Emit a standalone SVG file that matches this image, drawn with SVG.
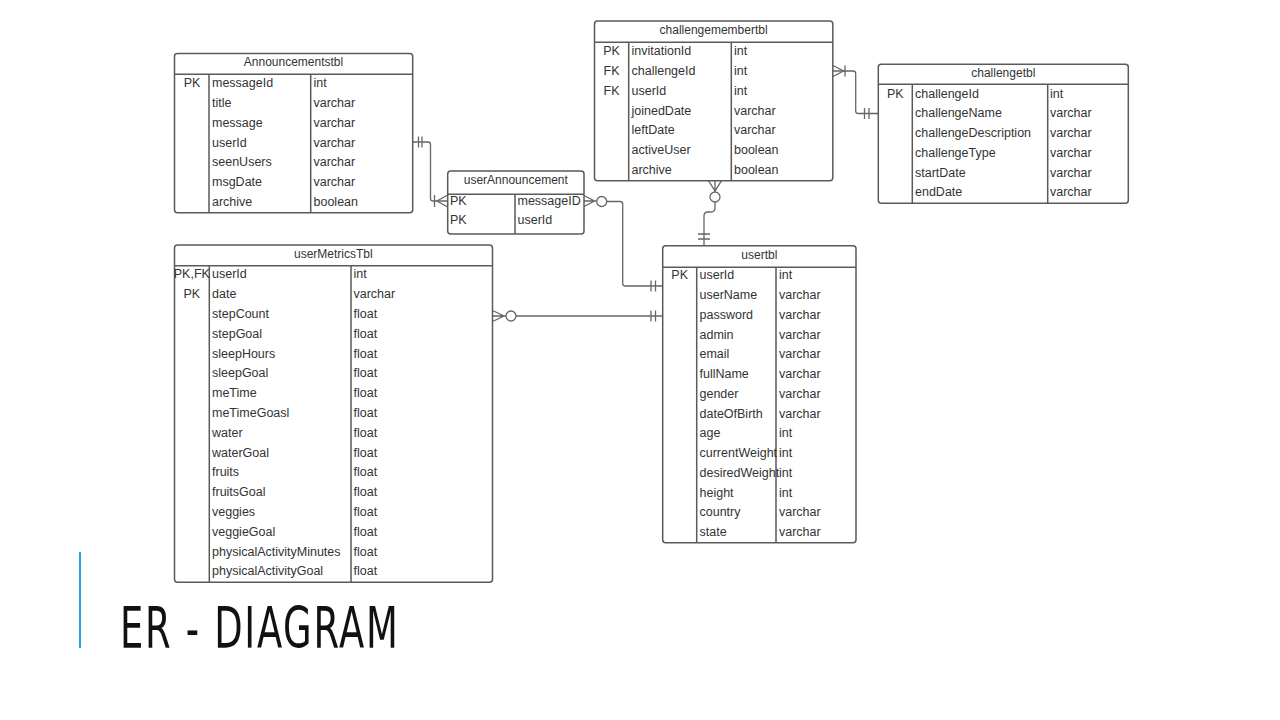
<svg xmlns="http://www.w3.org/2000/svg" width="1280" height="720" viewBox="0 0 1280 720">
<style>
.box{fill:#fff;stroke:#5a5a5a;stroke-width:1.5}
.ln{stroke:#5a5a5a;stroke-width:1.5;fill:none}
.t{font-family:"Liberation Sans",Arial,sans-serif;font-size:12.5px;fill:#333}
.h{font-size:12px;text-anchor:middle}
.m{text-anchor:middle}
.c{fill:none;stroke:#666;stroke-width:1.3}
.o{fill:#fff;stroke:#666;stroke-width:1.3}
</style>
<rect width="1280" height="720" fill="#fff"/>

<g id="connectors">
  <!-- Announcementstbl -> userAnnouncement -->
  <path class="c" d="M412.7 142 H428 Q430.5 142 430.5 144.5 V198.5 Q430.5 201 433 201 H447.7"/>
  <path class="c" d="M418.5 136.5 V147.5 M422 136.5 V147.5"/>
  <path class="c" d="M447.7 195 L437 201 L447.7 207 M434.5 195 V207"/>
  <!-- userAnnouncement -> usertbl -->
  <path class="c" d="M584 195.5 L594.5 201 L584 206.5 M584 201 H596.7"/>
  <circle class="o" cx="601.7" cy="201.5" r="5"/>
  <path class="c" d="M606.7 201.5 H620 Q622.7 201.5 622.7 204 V283.5 Q622.7 286 625.2 286 H662.7"/>
  <path class="c" d="M651 280.5 V291.5 M655.5 280.5 V291.5"/>
  <!-- userMetricsTbl -> usertbl -->
  <path class="c" d="M492.5 310.5 L504 316 L492.5 321.5 M492.5 316 H506"/>
  <circle class="o" cx="511" cy="316" r="5"/>
  <path class="c" d="M516 316 H662.7"/>
  <path class="c" d="M651 310.5 V321.5 M655.5 310.5 V321.5"/>
  <!-- challengemembertbl -> challengetbl -->
  <path class="c" d="M833 65.5 L843.5 71 L833 76.5 M845 65.5 V76.5"/>
  <path class="c" d="M833 71 H853 Q855.7 71 855.7 73.5 V111 Q855.7 113.5 858.2 113.5 H878.3"/>
  <path class="c" d="M864.5 108 V119 M869 108 V119"/>
  <!-- challengemembertbl -> usertbl -->
  <path class="c" d="M708.5 180.7 L715 191 L721.5 180.7 M715 180.7 V192"/>
  <circle class="o" cx="715" cy="197" r="5"/>
  <path class="c" d="M715 202 V208 Q715 212 711 212 H708 Q704 212 704 216 V245.7"/>
  <path class="c" d="M698 234 H710 M698 239 H710"/>
</g>

<g id="Announcementstbl">
  <rect class="box" x="174.5" y="53.5" width="238.2" height="159.2" rx="3"/>
  <path class="ln" d="M174.5 74.3 H412.7 M209 74.3 V212.7 M310.7 74.3 V212.7"/>
  <text class="t h" x="293.5" y="66">Announcementstbl</text>
  <text class="t m" x="192" y="87.4">PK</text>
  <text class="t" x="212" y="87.4">messageId</text><text class="t" x="313.5" y="87.4">int</text>
  <text class="t" x="212" y="107.1">title</text><text class="t" x="313.5" y="107.1">varchar</text>
  <text class="t" x="212" y="126.8">message</text><text class="t" x="313.5" y="126.8">varchar</text>
  <text class="t" x="212" y="146.5">userId</text><text class="t" x="313.5" y="146.5">varchar</text>
  <text class="t" x="212" y="166.2">seenUsers</text><text class="t" x="313.5" y="166.2">varchar</text>
  <text class="t" x="212" y="185.9">msgDate</text><text class="t" x="313.5" y="185.9">varchar</text>
  <text class="t" x="212" y="205.6">archive</text><text class="t" x="313.5" y="205.6">boolean</text>
</g>

<g id="userAnnouncement">
  <rect class="box" x="447.7" y="171" width="136.3" height="63" rx="3"/>
  <path class="ln" d="M447.7 194.3 H584 M515 194.3 V234"/>
  <text class="t h" x="515.8" y="184">userAnnouncement</text>
  <text class="t" x="450" y="205.4">PK</text><text class="t" x="517.5" y="205.4">messageID</text>
  <text class="t" x="450" y="224.4">PK</text><text class="t" x="517.5" y="224.4">userId</text>
</g>

<g id="challengemembertbl">
  <rect class="box" x="594.5" y="21" width="238.3" height="159.7" rx="3"/>
  <path class="ln" d="M594.5 42.3 H832.8 M628.7 42.3 V180.7 M731.3 42.3 V180.7"/>
  <text class="t h" x="713.6" y="34.3">challengemembertbl</text>
  <text class="t m" x="611.6" y="55.3">PK</text>
  <text class="t" x="631.5" y="55.3">invitationId</text><text class="t" x="734" y="55.3">int</text>
  <text class="t m" x="611.6" y="75.05">FK</text>
  <text class="t" x="631.5" y="75.05">challengeId</text><text class="t" x="734" y="75.05">int</text>
  <text class="t m" x="611.6" y="94.8">FK</text>
  <text class="t" x="631.5" y="94.8">userId</text><text class="t" x="734" y="94.8">int</text>
  <text class="t" x="631.5" y="114.55">joinedDate</text><text class="t" x="734" y="114.55">varchar</text>
  <text class="t" x="631.5" y="134.3">leftDate</text><text class="t" x="734" y="134.3">varchar</text>
  <text class="t" x="631.5" y="154.05">activeUser</text><text class="t" x="734" y="154.05">boolean</text>
  <text class="t" x="631.5" y="173.8">archive</text><text class="t" x="734" y="173.8">boolean</text>
</g>

<g id="challengetbl">
  <rect class="box" x="878.3" y="64.3" width="250" height="139" rx="3"/>
  <path class="ln" d="M878.3 84.3 H1128.3 M912.3 84.3 V203.3 M1047.7 84.3 V203.3"/>
  <text class="t h" x="1003.3" y="77.3">challengetbl</text>
  <text class="t m" x="895.3" y="97.6">PK</text>
  <text class="t" x="915" y="97.6">challengeId</text><text class="t" x="1050" y="97.6">int</text>
  <text class="t" x="915" y="117.35">challengeName</text><text class="t" x="1050" y="117.35">varchar</text>
  <text class="t" x="915" y="137.1">challengeDescription</text><text class="t" x="1050" y="137.1">varchar</text>
  <text class="t" x="915" y="156.85">challengeType</text><text class="t" x="1050" y="156.85">varchar</text>
  <text class="t" x="915" y="176.6">startDate</text><text class="t" x="1050" y="176.6">varchar</text>
  <text class="t" x="915" y="196.35">endDate</text><text class="t" x="1050" y="196.35">varchar</text>
</g>

<g id="usertbl">
  <rect class="box" x="662.7" y="245.7" width="193.3" height="297" rx="3"/>
  <path class="ln" d="M662.7 267.3 H856 M696.7 267.3 V542.7 M776 267.3 V542.7"/>
  <text class="t h" x="759.3" y="259.3">usertbl</text>
  <text class="t m" x="679.7" y="279.4">PK</text>
  <text class="t" x="699.5" y="279.4">userId</text><text class="t" x="779" y="279.4">int</text>
  <text class="t" x="699.5" y="299.15">userName</text><text class="t" x="779" y="299.15">varchar</text>
  <text class="t" x="699.5" y="318.9">password</text><text class="t" x="779" y="318.9">varchar</text>
  <text class="t" x="699.5" y="338.65">admin</text><text class="t" x="779" y="338.65">varchar</text>
  <text class="t" x="699.5" y="358.4">email</text><text class="t" x="779" y="358.4">varchar</text>
  <text class="t" x="699.5" y="378.15">fullName</text><text class="t" x="779" y="378.15">varchar</text>
  <text class="t" x="699.5" y="397.9">gender</text><text class="t" x="779" y="397.9">varchar</text>
  <text class="t" x="699.5" y="417.65">dateOfBirth</text><text class="t" x="779" y="417.65">varchar</text>
  <text class="t" x="699.5" y="437.4">age</text><text class="t" x="779" y="437.4">int</text>
  <text class="t" x="699.5" y="457.15">currentWeight</text><text class="t" x="779" y="457.15">int</text>
  <text class="t" x="699.5" y="476.9">desiredWeight</text><text class="t" x="779" y="476.9">int</text>
  <text class="t" x="699.5" y="496.65">height</text><text class="t" x="779" y="496.65">int</text>
  <text class="t" x="699.5" y="516.4">country</text><text class="t" x="779" y="516.4">varchar</text>
  <text class="t" x="699.5" y="536.15">state</text><text class="t" x="779" y="536.15">varchar</text>
</g>

<g id="userMetricsTbl">
  <rect class="box" x="174.5" y="245" width="318" height="337.3" rx="3"/>
  <path class="ln" d="M174.5 265.7 H492.5 M209.3 265.7 V582.3 M351 265.7 V582.3"/>
  <text class="t h" x="333.3" y="258">userMetricsTbl</text>
  <text class="t m" x="191.8" y="278.4">PK,FK</text>
  <text class="t" x="212" y="278.4">userId</text><text class="t" x="353.5" y="278.4">int</text>
  <text class="t m" x="191.8" y="298.2">PK</text>
  <text class="t" x="212" y="298.2">date</text><text class="t" x="353.5" y="298.2">varchar</text>
  <text class="t" x="212" y="318">stepCount</text><text class="t" x="353.5" y="318">float</text>
  <text class="t" x="212" y="337.8">stepGoal</text><text class="t" x="353.5" y="337.8">float</text>
  <text class="t" x="212" y="357.6">sleepHours</text><text class="t" x="353.5" y="357.6">float</text>
  <text class="t" x="212" y="377.4">sleepGoal</text><text class="t" x="353.5" y="377.4">float</text>
  <text class="t" x="212" y="397.2">meTime</text><text class="t" x="353.5" y="397.2">float</text>
  <text class="t" x="212" y="417">meTimeGoasl</text><text class="t" x="353.5" y="417">float</text>
  <text class="t" x="212" y="436.8">water</text><text class="t" x="353.5" y="436.8">float</text>
  <text class="t" x="212" y="456.6">waterGoal</text><text class="t" x="353.5" y="456.6">float</text>
  <text class="t" x="212" y="476.4">fruits</text><text class="t" x="353.5" y="476.4">float</text>
  <text class="t" x="212" y="496.2">fruitsGoal</text><text class="t" x="353.5" y="496.2">float</text>
  <text class="t" x="212" y="516">veggies</text><text class="t" x="353.5" y="516">float</text>
  <text class="t" x="212" y="535.8">veggieGoal</text><text class="t" x="353.5" y="535.8">float</text>
  <text class="t" x="212" y="555.6">physicalActivityMinutes</text><text class="t" x="353.5" y="555.6">float</text>
  <text class="t" x="212" y="575.4">physicalActivityGoal</text><text class="t" x="353.5" y="575.4">float</text>
</g>

<g id="title">
  <rect x="79" y="552" width="2" height="96" fill="#1ca8e0"/>
  <text transform="translate(120,648) scale(0.72,1)" x="0" y="0" font-family="'DejaVu Sans Condensed','Liberation Sans',sans-serif" font-size="57" fill="#111" textLength="386" lengthAdjust="spacing">ER - DIAGRAM</text>
</g>
</svg>
